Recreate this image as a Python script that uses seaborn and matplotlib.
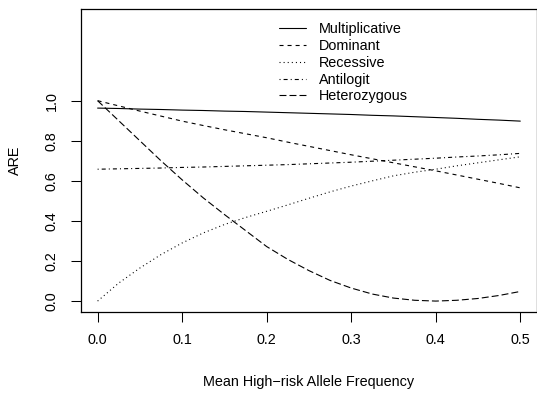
import matplotlib
matplotlib.use("Agg")
import matplotlib.pyplot as plt
import seaborn as sns
import pandas as pd

freq = [0.0, 0.025, 0.05, 0.075, 0.1, 0.125, 0.15, 0.175, 0.2, 0.225, 0.25,
        0.275, 0.3, 0.325, 0.35, 0.375, 0.4, 0.425, 0.45, 0.475, 0.5]
multiplicative = [0.963, 0.961, 0.958, 0.956, 0.953, 0.951, 0.948, 0.946, 0.943, 0.940, 0.937,
                  0.934, 0.931, 0.927, 0.924, 0.920, 0.916, 0.912, 0.907, 0.903, 0.898]
dominant = [1.0, 0.974, 0.948, 0.923, 0.898, 0.876, 0.855, 0.835, 0.815, 0.793, 0.772,
            0.751, 0.730, 0.710, 0.690, 0.670, 0.650, 0.629, 0.608, 0.587, 0.565]
recessive = [0.0, 0.09, 0.165, 0.232, 0.29, 0.34, 0.382, 0.417, 0.448, 0.480, 0.513,
             0.545, 0.574, 0.600, 0.625, 0.643, 0.658, 0.675, 0.690, 0.705, 0.720]
antilogit = [0.658, 0.660, 0.662, 0.664, 0.667, 0.669, 0.672, 0.675, 0.678, 0.681, 0.685,
             0.689, 0.693, 0.698, 0.703, 0.708, 0.713, 0.719, 0.724, 0.730, 0.737]
heterozygous = [1.0, 0.90, 0.80, 0.70, 0.605, 0.515, 0.432, 0.352, 0.272, 0.208, 0.152,
                0.103, 0.065, 0.035, 0.015, 0.004, 0.0, 0.004, 0.013, 0.028, 0.048]

series_names = ["Multiplicative", "Dominant", "Recessive", "Antilogit", "Heterozygous"]
series_values = [multiplicative, dominant, recessive, antilogit, heterozygous]
x_ticks = [0.0, 0.1, 0.2, 0.3, 0.4, 0.5]
y_ticks = [0.0, 0.2, 0.4, 0.6, 0.8, 1.0]

sns.set_style("white")
plt.rcParams["font.family"] = ["Liberation Sans", "DejaVu Sans"]
plt.rcParams["lines.scale_dashes"] = False

styles = {
    "Multiplicative": "-",
    "Dominant": (0, (2.9, 2.9)),
    "Recessive": (0, (0.75, 2.2)),
    "Antilogit": (0, (0.75, 2.2, 2.9, 2.2)),
    "Heterozygous": (0, (5.0, 2.2)),
}

W, H = 537, 395
fig = plt.figure(figsize=(W / 100, H / 100), dpi=100)
left, right, bottom, top = 80.7, 537.2, 312.3, 9.3
ax = fig.add_axes([left / W, (H - bottom) / H, (right - left) / W, (bottom - top) / H])

for name, vals in zip(series_names, series_values):
    df = pd.DataFrame({"freq": freq, "ARE": vals})
    sns.lineplot(data=df, x="freq", y="ARE", ax=ax, color="black", linewidth=0.8,
                 linestyle=styles[name], label=name)

ax.set_xlim(-0.02, 0.52)
ax.set_ylim(-0.056, 1.456)
ax.set_xticks(x_ticks)
ax.set_xticklabels([f"{v:.1f}" for v in x_ticks])
ax.set_yticks(y_ticks)
ax.set_yticklabels([f"{v:.1f}" for v in y_ticks], rotation=90, va="center")

fs = 10.4
ax.tick_params(axis="both", direction="out", length=7.2, width=0.75, color="black",
               labelsize=fs, labelcolor="black", left=True, bottom=True)
ax.tick_params(axis="x", pad=8.0)
ax.tick_params(axis="y", pad=8.6)
for s in ax.spines.values():
    s.set_color("black")
    s.set_linewidth(0.9)

ax.set_xlabel("Mean High\u2212risk Allele Frequency", fontsize=fs, color="black")
ax.set_ylabel("ARE", fontsize=fs, color="black")
ax.xaxis.set_label_coords((309 - left) / (right - left), -(386 - bottom) / (bottom - top))
ax.xaxis.label.set_va("baseline")
ax.yaxis.set_label_coords((15 - left) / (right - left), 0.5)
ax.yaxis.label.set_va("center")

leg = ax.legend(loc="upper left", bbox_to_anchor=(279 / W, 1 - 22.5 / H),
                bbox_transform=fig.transFigure, frameon=False, fontsize=fs,
                handlelength=1.85, handletextpad=0.92, labelspacing=0.19,
                borderpad=0, borderaxespad=0)
for t in leg.get_texts():
    t.set_color("black")

fig.savefig("out.png", dpi=100)
